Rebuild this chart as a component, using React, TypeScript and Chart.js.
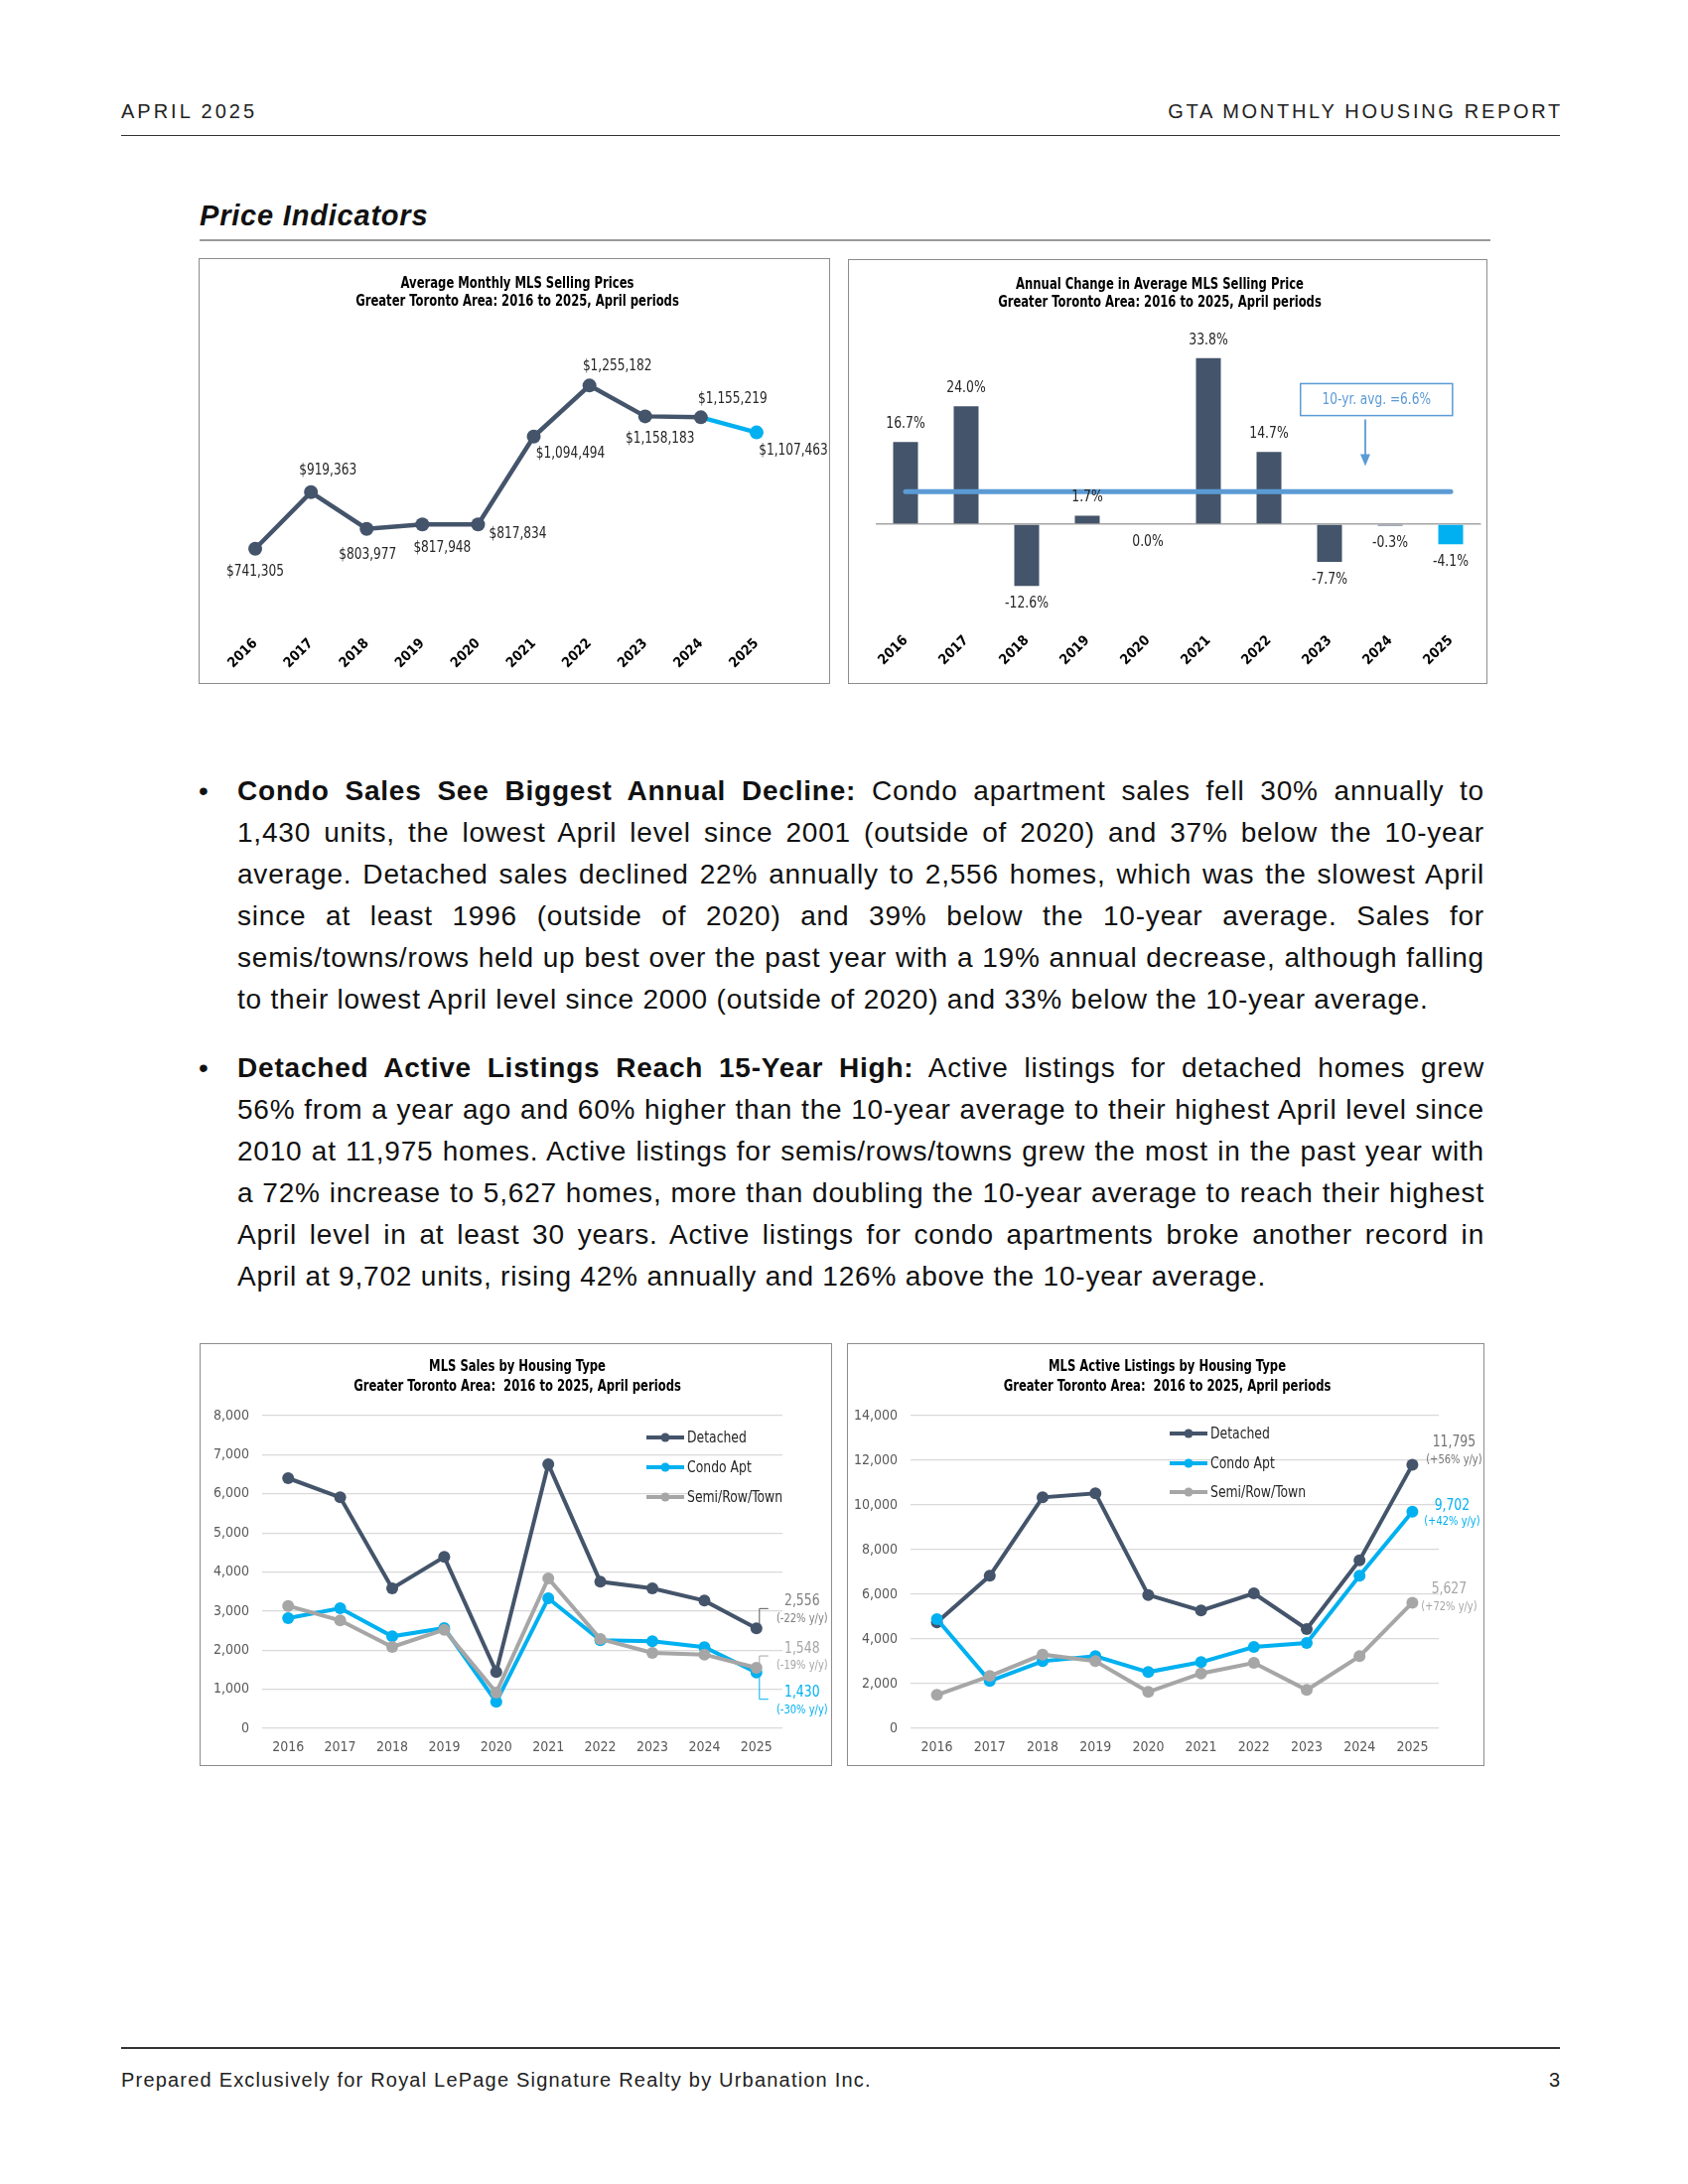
import React, { useEffect, useRef } from 'react';
import { Chart, registerables } from 'chart.js';

Chart.register(...registerables);

const NARROW = '"Liberation Sans Narrow", "Arial Narrow", "DejaVu Sans Condensed", "Liberation Sans", Arial, sans-serif';
const SANS = '"Liberation Sans", Arial, Helvetica, sans-serif';

const DARK = '#44546A';
const BLUE = '#00B0F0';
const GRAY = '#A6A6A6';
const AVG_BLUE = '#5B9BD5';
const AXIS_TEXT = '#595959';

// ---------- data ----------
const years = ['2016', '2017', '2018', '2019', '2020', '2021', '2022', '2023', '2024', '2025'];

const avgPrices = [741305, 919363, 803977, 817948, 817834, 1094494, 1255182, 1158183, 1155219, 1107463];

const priceChangePct = [16.7, 24.0, -12.6, 1.7, 0.0, 33.8, 14.7, -7.7, -0.3, -4.1];
const tenYearAvg = 6.6;
const tenYearAvgLine = [6.6, 6.6, 6.6, 6.6, 6.6, 6.6, 6.6, 6.6, 6.6, 6.6];

const salesDetached = [6400, 5910, 3580, 4385, 1440, 6756, 3750, 3580, 3267, 2556];
const salesCondo = [2820, 3073, 2354, 2565, 677, 3327, 2252, 2227, 2075, 1430];
const salesSemi = [3133, 2760, 2083, 2523, 914, 3835, 2286, 1930, 1888, 1548];
const salesYoY = ['-22%', '-30%', '-19%'];

const listDetached = [4741, 6830, 10341, 10518, 5970, 5274, 6044, 4444, 7526, 11795];
const listCondo = [4889, 2119, 3007, 3230, 2519, 2963, 3644, 3822, 6830, 9702];
const listSemi = [1496, 2341, 3304, 3007, 1630, 2459, 2933, 1718, 3230, 5627];
const listYoY = ['+56%', '+42%', '+72%'];

const seriesNames = ['Detached', 'Condo Apt', 'Semi/Row/Town'];

const salesAxis = { min: 0, max: 8000, step: 1000 };
const listAxis = { min: 0, max: 14000, step: 2000 };

// label placement (pixel offsets from each point) for the price chart
const priceLabelOffsets: [number, number][] = [
  [0, 23], [17, -22], [1, 26], [20, 24], [40, 10],
  [37, 17], [28, -19], [15, 23], [32, -18], [37, 18],
];

// ---------- text ----------
const bullet1 = [
  { b: 'Condo Sales See Biggest Annual Decline:', t: ' Condo apartment sales fell 30% annually to' },
  { t: '1,430 units, the lowest April level since 2001 (outside of 2020) and 37% below the 10-year' },
  { t: 'average. Detached sales declined 22% annually to 2,556 homes, which was the slowest April' },
  { t: 'since at least 1996 (outside of 2020) and 39% below the 10-year average. Sales for' },
  { t: 'semis/towns/rows held up best over the past year with a 19% annual decrease, although falling' },
  { t: 'to their lowest April level since 2000 (outside of 2020) and 33% below the 10-year average.' },
];
const bullet2 = [
  { b: 'Detached Active Listings Reach 15-Year High:', t: ' Active listings for detached homes grew' },
  { t: '56% from a year ago and 60% higher than the 10-year average to their highest April level since' },
  { t: '2010 at 11,975 homes. Active listings for semis/rows/towns grew the most in the past year with' },
  { t: 'a 72% increase to 5,627 homes, more than doubling the 10-year average to reach their highest' },
  { t: 'April level in at least 30 years. Active listings for condo apartments broke another record in' },
  { t: 'April at 9,702 units, rising 42% annually and 126% above the 10-year average.' },
];

const fmt = (v: number) => Math.round(v).toLocaleString('en-US');

// draw text horizontally condensed (reference uses a narrow face)
function drawText(ctx: CanvasRenderingContext2D, text: string, x: number, y: number, sx: number) {
  ctx.save();
  ctx.translate(x, y);
  ctx.scale(sx, 1);
  ctx.fillText(text, 0, 0);
  ctx.restore();
}

// ---------- plugins ----------
function titlePlugin(lines: string[], dx: number, ys: number[]) {
  return {
    id: 'customTitle',
    afterDraw(chart: any) {
      const ctx = chart.ctx;
      ctx.save();
      ctx.font = `bold 15px ${NARROW}`;
      ctx.fillStyle = '#000';
      ctx.textAlign = 'center';
      ctx.textBaseline = 'middle';
      lines.forEach((l, i) => drawText(ctx, l, chart.width / 2 + dx, ys[i], 0.86));
      ctx.restore();
    },
  };
}

const priceLabelPlugin = {
  id: 'priceLabels',
  afterDatasetsDraw(chart: any) {
    const ctx = chart.ctx;
    const meta = chart.getDatasetMeta(0);
    ctx.save();
    ctx.font = `15px ${NARROW}`;
    ctx.fillStyle = '#262626';
    ctx.textAlign = 'center';
    ctx.textBaseline = 'middle';
    meta.data.forEach((pt: any, i: number) => {
      const [dx, dy] = priceLabelOffsets[i];
      drawText(ctx, '$' + fmt(avgPrices[i]), pt.x + dx, pt.y + dy, 0.9);
    });
    ctx.restore();
  },
};

const barLabelPlugin = {
  id: 'barLabels',
  afterDatasetsDraw(chart: any) {
    const ctx = chart.ctx;
    const meta = chart.getDatasetMeta(1);
    ctx.save();
    ctx.font = `15px ${NARROW}`;
    ctx.fillStyle = '#262626';
    ctx.textAlign = 'center';
    ctx.textBaseline = 'middle';
    meta.data.forEach((el: any, i: number) => {
      const v = priceChangePct[i];
      const y = v > 0 ? el.y - 18 : el.y + 18;
      drawText(ctx, v.toFixed(1) + '%', el.x, y, 0.92);
    });
    ctx.restore();
  },
};

const avgCalloutPlugin = {
  id: 'avgCallout',
  afterDatasetsDraw(chart: any) {
    const { ctx } = chart;
    const x = chart.scales.x;
    const y = chart.scales.y;
    const l = x.getPixelForValue(6.52);
    const r = x.getPixelForValue(9.03);
    const t = y.getPixelForValue(28.6);
    const b = y.getPixelForValue(22.1);
    ctx.save();
    ctx.fillStyle = '#fff';
    ctx.fillRect(l, t, r - l, b - t);
    ctx.strokeStyle = AVG_BLUE;
    ctx.lineWidth = 1.5;
    ctx.strokeRect(l, t, r - l, b - t);
    ctx.fillStyle = AVG_BLUE;
    ctx.font = `15px ${NARROW}`;
    ctx.textAlign = 'center';
    ctx.textBaseline = 'middle';
    drawText(ctx, `10-yr. avg. =${tenYearAvg.toFixed(1)}%`, (l + r) / 2, (t + b) / 2 + 1, 0.9);
    const ax = x.getPixelForValue(7.59);
    const a0 = y.getPixelForValue(21.3);
    const a1 = y.getPixelForValue(11.8);
    ctx.strokeStyle = AVG_BLUE;
    ctx.lineWidth = 1.8;
    ctx.beginPath();
    ctx.moveTo(ax, a0);
    ctx.lineTo(ax, a1 - 10);
    ctx.stroke();
    ctx.beginPath();
    ctx.moveTo(ax - 5, a1 - 12);
    ctx.lineTo(ax + 5, a1 - 12);
    ctx.lineTo(ax, a1);
    ctx.closePath();
    ctx.fill();
    ctx.restore();
  },
};

function legendPlugin(x0: number, ys: number[]) {
  return {
    id: 'customLegend',
    afterDraw(chart: any) {
      const ctx = chart.ctx;
      ctx.save();
      chart.data.datasets.forEach((ds: any, i: number) => {
        const y = ys[i];
        ctx.strokeStyle = ds.borderColor;
        ctx.lineWidth = 4;
        ctx.beginPath();
        ctx.moveTo(x0, y);
        ctx.lineTo(x0 + 38, y);
        ctx.stroke();
        ctx.fillStyle = ds.borderColor;
        ctx.beginPath();
        ctx.arc(x0 + 19, y, 4.5, 0, Math.PI * 2);
        ctx.fill();
        ctx.fillStyle = '#262626';
        ctx.font = `15px ${NARROW}`;
        ctx.textAlign = 'left';
        ctx.textBaseline = 'middle';
        drawText(ctx, ds.label, x0 + 41, y + 1, 0.92);
      });
      ctx.restore();
    },
  };
}

type Callout = {
  value: number;
  yoy: string;
  color: string;
  lineColor: string;
  dx: number;
  dyV: number;
  dyY: number;
  path?: [number, number][];
};

function calloutPlugin(items: Callout[]) {
  return {
    id: 'endCallouts',
    afterDatasetsDraw(chart: any) {
      const ctx = chart.ctx;
      ctx.save();
      items.forEach((it, i) => {
        const meta = chart.getDatasetMeta(i);
        const pt = meta.data[meta.data.length - 1];
        if (it.path) {
          ctx.strokeStyle = it.lineColor;
          ctx.lineWidth = 1;
          ctx.beginPath();
          it.path.forEach(([dx, dy], k) => {
            if (k === 0) ctx.moveTo(pt.x + dx, pt.y + dy);
            else ctx.lineTo(pt.x + dx, pt.y + dy);
          });
          ctx.stroke();
        }
        ctx.fillStyle = it.color;
        ctx.textAlign = 'center';
        ctx.textBaseline = 'middle';
        ctx.font = `15px ${NARROW}`;
        drawText(ctx, fmt(it.value), pt.x + it.dx, pt.y + it.dyV, 0.92);
        ctx.font = `12px ${NARROW}`;
        drawText(ctx, `(${it.yoy} y/y)`, pt.x + it.dx, pt.y + it.dyY, 0.92);
      });
      ctx.restore();
    },
  };
}

// ---------- chart builders ----------
const rotatedX = (h: number) => ({
  offset: true,
  grid: { display: false, drawTicks: false },
  border: { display: false },
  ticks: {
    autoSkip: false,
    minRotation: 45,
    maxRotation: 45,
    padding: 10,
    color: '#000',
    font: { family: NARROW, size: 14, weight: 'bold' as const },
  },
  afterFit: (s: any) => { s.height = h; },
});

const flatX = (h: number) => ({
  offset: true,
  grid: { display: false, drawTicks: false },
  border: { display: false },
  ticks: {
    autoSkip: false,
    maxRotation: 0,
    padding: 11,
    color: AXIS_TEXT,
    font: { family: NARROW, size: 14 },
  },
  afterFit: (s: any) => { s.height = h; },
});

const valueY = (ax: { min: number; max: number; step: number }, w: number) => ({
  min: ax.min,
  max: ax.max,
  ticks: {
    stepSize: ax.step,
    padding: 13,
    color: AXIS_TEXT,
    font: { family: NARROW, size: 14 },
    callback: (v: any) => fmt(Number(v)),
  },
  grid: { color: '#D9D9D9', drawTicks: false, lineWidth: 1.2 },
  border: { display: false },
  afterFit: (s: any) => { s.width = w; },
});

const baseOpts = {
  animation: false as const,
  responsive: true,
  maintainAspectRatio: false,
  plugins: { legend: { display: false }, tooltip: { enabled: false }, title: { display: false } },
  events: [] as any[],
};

const lineSeries = (label: string, data: number[], color: string, order: number) => ({
  label,
  data,
  borderColor: color,
  backgroundColor: color,
  pointBackgroundColor: color,
  pointBorderWidth: 0,
  pointRadius: 6,
  borderWidth: 4,
  tension: 0,
  order,
});

function makePriceChart(canvas: HTMLCanvasElement) {
  const last = avgPrices.length - 1;
  return new Chart(canvas, {
    type: 'line',
    data: {
      labels: years,
      datasets: [
        {
          data: avgPrices,
          borderColor: DARK,
          borderWidth: 4.5,
          pointRadius: 7,
          pointBorderWidth: 0,
          pointBackgroundColor: avgPrices.map((_, i) => (i === last ? BLUE : DARK)),
          segment: { borderColor: (c: any) => (c.p1DataIndex === last ? BLUE : DARK) },
          tension: 0,
        } as any,
      ],
    },
    options: {
      ...baseOpts,
      layout: { padding: { left: 29, right: 46, top: 82, bottom: 0 } },
      scales: {
        x: rotatedX(59) as any,
        y: { display: false, min: 500000, max: 1400000 },
      },
    } as any,
    plugins: [
      titlePlugin(['Average Monthly MLS Selling Prices', 'Greater Toronto Area: 2016 to 2025, April periods'], 3, [26, 44]),
      priceLabelPlugin,
    ],
  });
}

function makeChangeChart(canvas: HTMLCanvasElement) {
  const last = priceChangePct.length - 1;
  return new Chart(canvas, {
    type: 'bar',
    data: {
      labels: years,
      datasets: [
        {
          type: 'line',
          data: tenYearAvgLine,
          borderColor: AVG_BLUE,
          borderWidth: 5,
          borderCapStyle: 'round',
          pointRadius: 0,
          order: 1,
        } as any,
        {
          type: 'bar',
          data: priceChangePct,
          backgroundColor: priceChangePct.map((_, i) => (i === last ? BLUE : DARK)),
          barPercentage: 0.41,
          categoryPercentage: 1,
          order: 2,
        } as any,
      ],
    },
    options: {
      ...baseOpts,
      layout: { padding: { left: 27.5, right: 6.5, top: 69, bottom: 0 } },
      scales: {
        x: rotatedX(62) as any,
        y: {
          min: -20,
          max: 40,
          ticks: { display: false, stepSize: 10 },
          grid: {
            color: (c: any) => (c.tick && c.tick.value === 0 ? '#A6A6A6' : 'rgba(0,0,0,0)'),
            drawTicks: false,
            lineWidth: 1.5,
          },
          border: { display: false },
          afterFit: (s: any) => { s.width = 0; },
        },
      },
    } as any,
    plugins: [
      titlePlugin(['Annual Change in Average MLS Selling Price', 'Greater Toronto Area: 2016 to 2025, April periods'], -8, [26, 44]),
      barLabelPlugin,
      avgCalloutPlugin,
    ],
  });
}

function makeSalesChart(canvas: HTMLCanvasElement) {
  const n = years.length - 1;
  return new Chart(canvas, {
    type: 'line',
    data: {
      labels: years,
      datasets: [
        lineSeries(seriesNames[0], salesDetached, DARK, 3),
        lineSeries(seriesNames[1], salesCondo, BLUE, 2),
        lineSeries(seriesNames[2], salesSemi, GRAY, 1),
      ],
    },
    options: {
      ...baseOpts,
      layout: { padding: { left: 0, right: 50, top: 73, bottom: 0 } },
      scales: { x: flatX(38) as any, y: valueY(salesAxis, 63) as any },
    } as any,
    plugins: [
      titlePlugin(['MLS Sales by Housing Type', 'Greater Toronto Area:  2016 to 2025, April periods'], 1.5, [24, 44]),
      legendPlugin(450, [95, 125, 155]),
      calloutPlugin([
        { value: salesDetached[n], yoy: salesYoY[0], color: '#7F7F7F', lineColor: '#595959', dx: 46, dyV: -27, dyY: -9, path: [[3, -4], [3, -20], [12, -20]] },
        { value: salesCondo[n], yoy: salesYoY[1], color: BLUE, lineColor: BLUE, dx: 46, dyV: 20, dyY: 38, path: [[3, 5], [3, 27], [12, 27]] },
        { value: salesSemi[n], yoy: salesYoY[2], color: GRAY, lineColor: GRAY, dx: 46, dyV: -19, dyY: -2, path: [[3, -2], [3, -12], [12, -12]] },
      ]),
    ],
  });
}

function makeListingsChart(canvas: HTMLCanvasElement) {
  const n = years.length - 1;
  return new Chart(canvas, {
    type: 'line',
    data: {
      labels: years,
      datasets: [
        lineSeries(seriesNames[0], listDetached, DARK, 3),
        lineSeries(seriesNames[1], listCondo, BLUE, 2),
        lineSeries(seriesNames[2], listSemi, GRAY, 1),
      ],
    },
    options: {
      ...baseOpts,
      layout: { padding: { left: 0, right: 46, top: 73, bottom: 0 } },
      scales: { x: flatX(38) as any, y: valueY(listAxis, 64) as any },
    } as any,
    plugins: [
      titlePlugin(['MLS Active Listings by Housing Type', 'Greater Toronto Area:  2016 to 2025, April periods'], 1.5, [24, 44]),
      legendPlugin(325, [91, 121, 150]),
      calloutPlugin([
        { value: listDetached[n], yoy: listYoY[0], color: '#737373', lineColor: '#737373', dx: 42, dyV: -23, dyY: -5 },
        { value: listCondo[n], yoy: listYoY[1], color: BLUE, lineColor: BLUE, dx: 40, dyV: -6, dyY: 10 },
        { value: listSemi[n], yoy: listYoY[2], color: GRAY, lineColor: GRAY, dx: 37, dyV: -13, dyY: 4 },
      ]),
    ],
  });
}

// ---------- components ----------
function ChartBox(props: { x: number; y: number; w: number; h: number; make: (c: HTMLCanvasElement) => Chart }) {
  const { x, y, w, h, make } = props;
  const ref = useRef<HTMLCanvasElement>(null);
  useEffect(() => {
    const ch = make(ref.current as HTMLCanvasElement);
    return () => ch.destroy();
  }, []);
  return (
    <>
      <div style={{ position: 'absolute', left: x, top: y, width: w, height: h, border: '1.5px solid #8C8C8C', boxSizing: 'border-box', background: '#fff' }} />
      <div style={{ position: 'absolute', left: x, top: y, width: w, height: h }}>
        <canvas ref={ref} />
      </div>
    </>
  );
}

function Bullet(props: { top: number; lines: { b?: string; t: string }[] }) {
  const { top, lines } = props;
  return (
    <>
      <div style={{ position: 'absolute', left: 200, top: top, width: 20, height: 42, lineHeight: '42px', fontSize: 28 }}>•</div>
      {lines.map((ln, i) => {
        const last = i === lines.length - 1;
        return (
          <div
            key={i}
            style={{
              position: 'absolute',
              left: 239,
              top: top + i * 42,
              width: 1256,
              height: 42,
              lineHeight: '42px',
              fontSize: 28,
              letterSpacing: '0.8px',
              whiteSpace: 'nowrap',
              textAlign: last ? 'left' : 'justify',
              textAlignLast: last ? 'left' : 'justify',
              color: '#111',
            } as any}
          >
            {ln.b ? <b>{ln.b}</b> : null}
            {ln.t}
          </div>
        );
      })}
    </>
  );
}

export default function App() {
  return (
    <div style={{ position: 'absolute', left: 0, top: 0, width: 1700, height: 2200, background: '#fff', fontFamily: SANS, color: '#111', overflow: 'hidden' }}>
      {/* header */}
      <div style={{ position: 'absolute', left: 122, top: 100, lineHeight: '24px', fontSize: 20, letterSpacing: '3px', color: '#222' }}>APRIL 2025</div>
      <div style={{ position: 'absolute', right: 126, top: 100, lineHeight: '24px', fontSize: 20, letterSpacing: '2.7px', color: '#222' }}>GTA MONTHLY HOUSING REPORT</div>
      <div style={{ position: 'absolute', left: 122, top: 135.5, width: 1449, height: 1.5, background: '#333' }} />

      {/* section title */}
      <div style={{ position: 'absolute', left: 201, top: 201, lineHeight: '32px', fontSize: 29, letterSpacing: '0.8px', fontWeight: 'bold', fontStyle: 'italic', color: '#111' }}>Price Indicators</div>
      <div style={{ position: 'absolute', left: 201, top: 241, width: 1300, height: 1.5, background: '#999' }} />

      <ChartBox x={200} y={260} w={636} h={429} make={makePriceChart} />
      <ChartBox x={854} y={261} w={644} h={428} make={makeChangeChart} />

      <Bullet top={776} lines={bullet1} />
      <Bullet top={1055} lines={bullet2} />

      <ChartBox x={201} y={1353} w={637} h={426} make={makeSalesChart} />
      <ChartBox x={853} y={1353} w={642} h={426} make={makeListingsChart} />

      {/* footer */}
      <div style={{ position: 'absolute', left: 122, top: 2062, width: 1449, height: 1.5, background: '#333' }} />
      <div style={{ position: 'absolute', left: 122, top: 2082, lineHeight: '26px', fontSize: 20, letterSpacing: '1.2px', color: '#222' }}>
        Prepared Exclusively for Royal LePage Signature Realty by Urbanation Inc.
      </div>
      <div style={{ position: 'absolute', right: 129, top: 2082, lineHeight: '26px', fontSize: 20, color: '#222' }}>3</div>
    </div>
  );
}
